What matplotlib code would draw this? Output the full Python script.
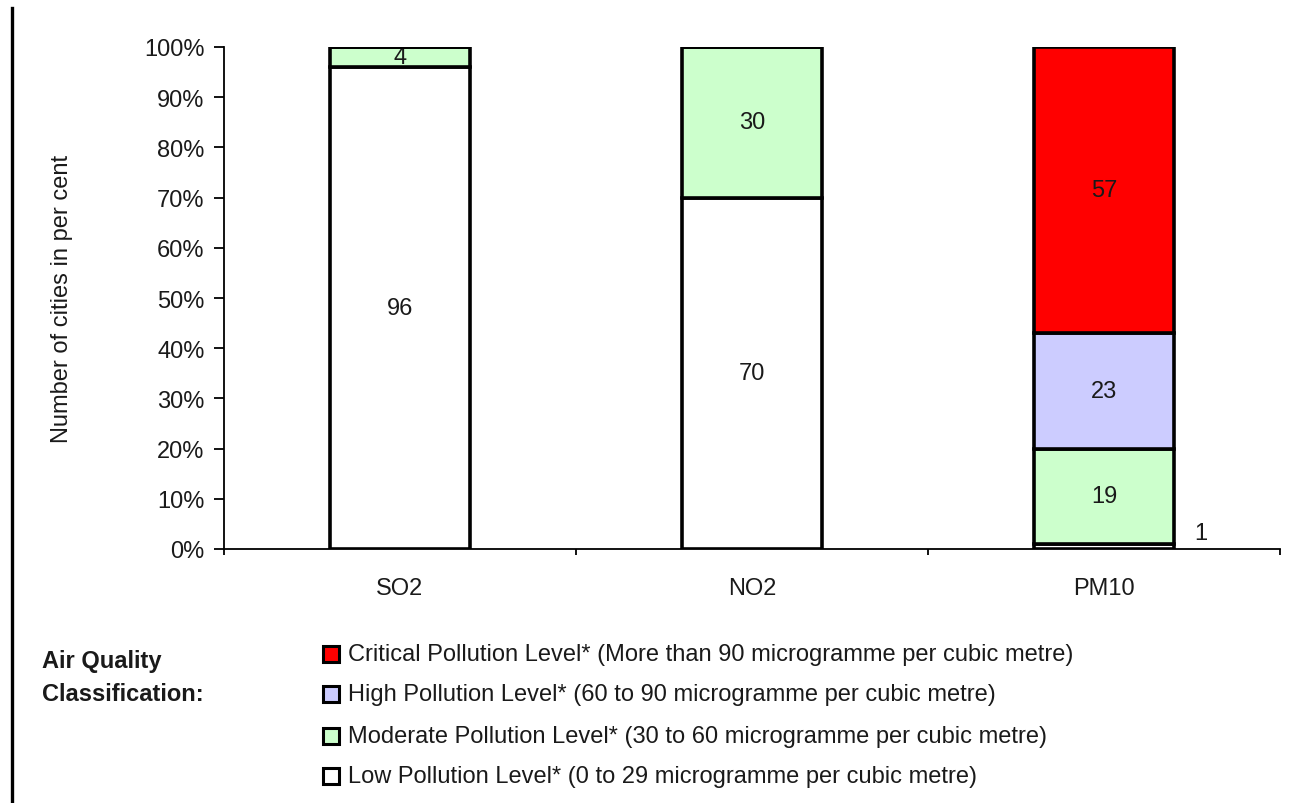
import numpy as np
import matplotlib
matplotlib.use("Agg")
import matplotlib.pyplot as plt
from matplotlib.patches import Rectangle
from matplotlib.lines import Line2D

plt.rcParams["font.family"] = ["Liberation Sans", "DejaVu Sans"]

# ─── Daten ────────────────────────────────────────────────
schadstoffe = ["SO2", "NO2", "PM10"]

stufen = ["Low", "Moderate", "High", "Critical"]
low      = [96, 70, 1]
moderate = [4, 30, 19]
high     = [0, 0, 23]
critical = [0, 0, 57]

farben = {
    "Low": "#FFFFFF",
    "Moderate": "#CCFFCC",
    "High": "#CCCCFF",
    "Critical": "#FF0000",
}

legenden_text = {
    "Critical": "Critical Pollution Level* (More than 90 microgramme per cubic metre)",
    "High": "High Pollution Level* (60 to 90 microgramme per cubic metre)",
    "Moderate": "Moderate Pollution Level* (30 to 60 microgramme per cubic metre)",
    "Low": "Low Pollution Level* (0 to 29 microgramme per cubic metre)",
}

werte = {"Low": low, "Moderate": moderate, "High": high, "Critical": critical}

# ─── Figur ────────────────────────────────────────────────
W, H = 1295, 804
fs = 17
fig = plt.figure(figsize=(W / 100, H / 100), dpi=100)
ax = fig.add_axes([224 / W, (H - 550) / H, (1280 - 224) / W, (550 - 48) / H])

x = np.arange(len(schadstoffe))
breite = 0.40
boden = np.zeros(len(schadstoffe))
textfarbe = "#1a1a1a"

for stufe in stufen:
    v = np.array(werte[stufe], dtype=float)
    bars = ax.bar(x, v, breite, bottom=boden, color=farben[stufe],
                  edgecolor="black", linewidth=2.6, zorder=3)
    labels = [f"{int(w)}" if w >= 3 else "" for w in v]
    ax.bar_label(bars, labels=labels, label_type="center",
                 fontsize=fs, color=textfarbe)
    # kleine Segmente rechts neben dem Balken beschriften
    for i, w in enumerate(v):
        if 0 < w < 3:
            ax.annotate(f"{int(w)}", xy=(x[i] + breite / 2, boden[i] + w),
                        xytext=(19, 8), textcoords="offset points",
                        ha="center", va="center", fontsize=fs,
                        color=textfarbe)
    boden += v

# ─── Achsen ───────────────────────────────────────────────
ax.set_xlim(-0.5, len(schadstoffe) - 0.5)
ax.set_ylim(0, 100)
ax.set_yticks(np.arange(0, 101, 10))
ax.set_yticklabels([f"{t}%" for t in range(0, 101, 10)])
ax.set_xticks(x)
ax.set_xticklabels(schadstoffe)
ax.set_xticks(np.arange(-0.5, len(schadstoffe)), minor=True)

ax.tick_params(axis="y", direction="out", length=7, width=1.3,
               pad=7, labelsize=fs, labelcolor=textfarbe)
ax.tick_params(axis="x", which="major", length=0, pad=20,
               labelsize=fs, labelcolor=textfarbe)
ax.tick_params(axis="x", which="minor", direction="out", length=4,
               width=1.3)

for s in ["top", "right"]:
    ax.spines[s].set_visible(False)
for s in ["left", "bottom"]:
    ax.spines[s].set_linewidth(1.3)

fig.text(62 / W, 1 - 299 / H, "Number of cities in per cent",
         rotation=90, ha="center", va="center", fontsize=17,
         color=textfarbe)

# ─── Legende ──────────────────────────────────────────────
fig.text(42 / W, 1 - 662 / H, "Air Quality", fontsize=fs,
         fontweight="bold", color=textfarbe, va="center")
fig.text(42 / W, 1 - 695 / H, "Classification:", fontsize=fs,
         fontweight="bold", color=textfarbe, va="center")

zeilen_y = [655, 695, 737, 777]
for stufe, yp in zip(reversed(stufen), zeilen_y):
    fig.add_artist(Rectangle((323 / W, 1 - (yp + 8) / H), 16 / W, 16 / H,
                             transform=fig.transFigure,
                             facecolor=farben[stufe], edgecolor="black",
                             linewidth=2.2))
    fig.text(348 / W, 1 - yp / H, legenden_text[stufe], fontsize=fs,
             color=textfarbe, va="center")

# linke Randlinie
fig.add_artist(Line2D([12 / W, 12 / W], [0, 1 - 9 / H],
                      transform=fig.transFigure, color="black",
                      linewidth=2.4))

fig.savefig("out.png", dpi=100)
